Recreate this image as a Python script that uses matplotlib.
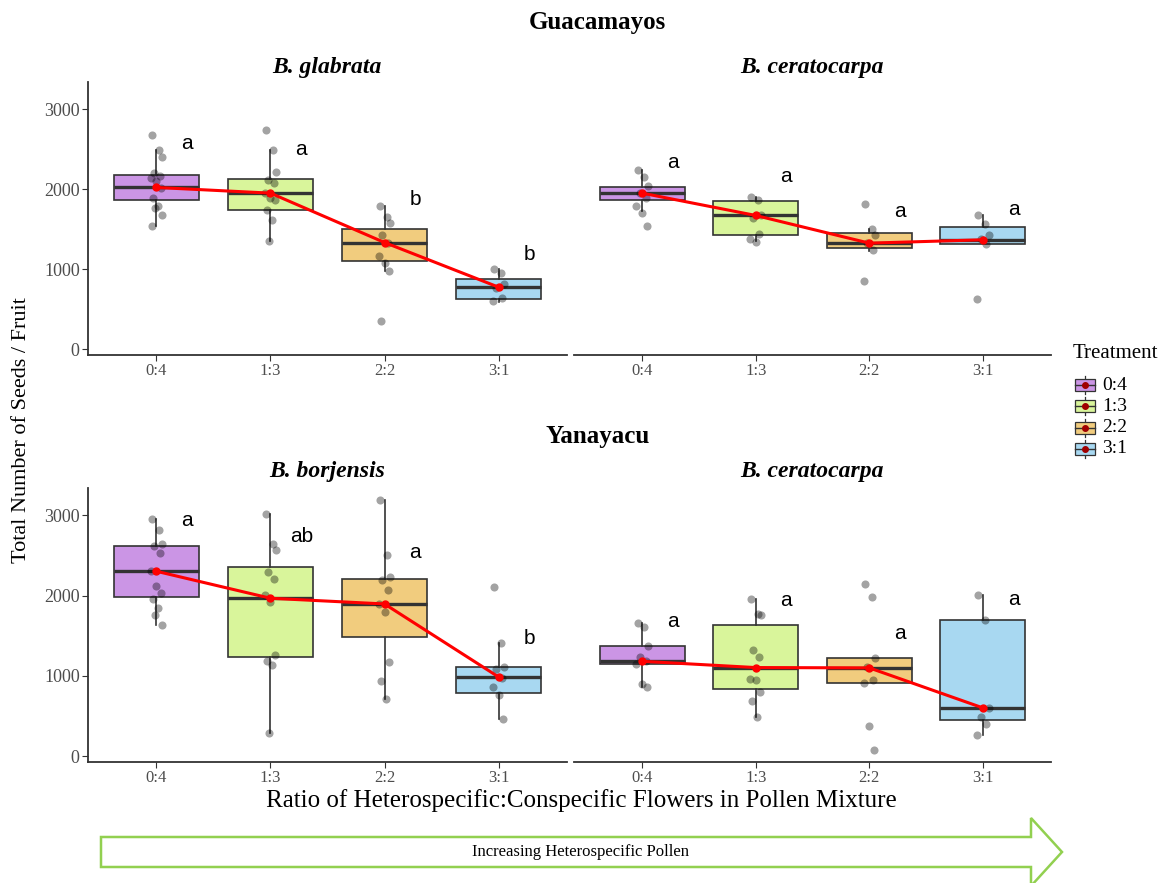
import matplotlib
matplotlib.use("Agg")
import matplotlib.pyplot as plt
from matplotlib.patches import Polygon, Rectangle

W, H = 1167, 883

ratios = ["0:4", "1:3", "2:2", "3:1"]
box_colors = ["#CB95E5", "#D9F59B", "#F1CC7E", "#A8D8F1"]

# box stats per ratio: (lower whisker, Q1, median, Q3, upper whisker)
glabrata_box = [(1543, 1860, 2022, 2177, 2485), (1359, 1743, 1951, 2127, 2494),
                (984, 1109, 1334, 1501, 1785), (596, 634, 776, 880, 1000)]
glabrata_pts = [[2677, 2485, 2402, 2200, 2160, 2140, 2100, 2014, 1890, 1785, 1765, 1680, 1543],
                [2744, 2494, 2210, 2118, 2077, 1950, 1889, 1860, 1735, 1618, 1359],
                [1785, 1651, 1576, 1426, 1326, 1168, 1076, 984, 350],
                [1000, 951, 817, 763, 638, 609]]
glabrata_letters = ["a", "a", "b", "b"]
glabrata_letter_y = [2577, 2494, 1868, 1180]

ceratG_box = [(1722, 1868, 1951, 2022, 2235), (1347, 1426, 1672, 1851, 1901),
              (1234, 1264, 1326, 1459, 1501), (1318, 1318, 1368, 1526, 1680)]
ceratG_pts = [[2235, 2152, 2043, 1951, 1889, 1785, 1701, 1543],
              [1901, 1860, 1680, 1639, 1443, 1376, 1339],
              [1818, 1501, 1430, 1326, 1243, 851],
              [1680, 1568, 1430, 1376, 1318, 630]]
ceratG_letters = ["a", "a", "a", "a"]
ceratG_letter_y = [2335, 2160, 1722, 1743]

borjensis_box = [(1631, 1987, 2303, 2618, 2958), (295, 1236, 1967, 2357, 3020),
                 (714, 1490, 1896, 2211, 3195), (469, 788, 987, 1112, 1415)]
borjensis_pts = [[2958, 2821, 2639, 2618, 2535, 2307, 2116, 2033, 1954, 1846, 1755, 1631],
                 [3020, 2647, 2564, 2294, 2211, 2004, 1921, 1257, 1182, 1141, 295],
                 [3195, 2502, 2232, 2191, 2066, 1896, 1797, 1174, 934, 714],
                 [2108, 1415, 1112, 1091, 979, 863, 759, 469]]
borjensis_letters = ["a", "ab", "a", "b"]
borjensis_letter_y = [2937, 2730, 2543, 1465]

ceratY_box = [(863, 1149, 1182, 1369, 1660), (490, 838, 1104, 1639, 1962),
              (917, 917, 1100, 1228, 1228), (261, 448, 602, 1693, 2004)]
ceratY_pts = [[1660, 1610, 1373, 1236, 1182, 1153, 896, 863],
              [1962, 1776, 1755, 1328, 1236, 967, 954, 801, 685, 490],
              [2141, 1983, 1228, 1112, 946, 917, 378, 83],
              [2004, 1693, 602, 490, 407, 261]]
ceratY_letters = ["a", "a", "a", "a"]
ceratY_letter_y = [1672, 1933, 1527, 1954]

# small fixed horizontal jitter for the points
jit = [-0.04, 0.02, 0.05, -0.02, 0.03, -0.05, 0.0, 0.04, -0.03, 0.01, -0.01, 0.05, -0.04]

serif = "Liberation Serif"
dark = "#333333"

fig = plt.figure(figsize=(W / 100, H / 100), dpi=100)
fig.patch.set_facecolor("white")


def px_axes(x0, x1, y0, y1):
    return fig.add_axes([x0 / W, 1 - y1 / H, (x1 - x0) / W, (y1 - y0) / H])


def draw_panel(ax, box, pts, letters, letter_y, left_axis):
    pos = [1, 2, 3, 4]
    stats = []
    for b in box:
        stats.append({"whislo": b[0], "q1": b[1], "med": b[2], "q3": b[3], "whishi": b[4], "fliers": []})
    bp = ax.bxp(stats, positions=pos, widths=0.75, patch_artist=True, showfliers=False, showcaps=False,
                boxprops=dict(edgecolor=dark, linewidth=1.2),
                whiskerprops=dict(color=dark, linewidth=1.2),
                medianprops=dict(color=dark, linewidth=2.4))
    for patch, c in zip(bp["boxes"], box_colors):
        patch.set_facecolor(c)
    for i, vals in enumerate(pts):
        xs = [pos[i] + jit[k % len(jit)] for k in range(len(vals))]
        ax.scatter(xs, vals, s=34, color="black", alpha=0.36, linewidths=0, zorder=4)
    meds = [b[2] for b in box]
    ax.plot(pos, meds, color="red", lw=2.2, marker="o", ms=5, zorder=5)
    for i, (t, yv) in enumerate(zip(letters, letter_y)):
        ax.text(pos[i] + 0.27, yv, t, fontsize=15, family="Liberation Sans", ha="center", va="center")

    ax.set_xlim(0.4, 4.6)
    ax.set_ylim(-72, 3340)
    ax.set_xticks(pos)
    ax.set_xticklabels(ratios, family=serif, fontsize=12, color="#4D4D4D")
    ax.set_facecolor("none")
    for s in ["top", "right"]:
        ax.spines[s].set_visible(False)
    ax.spines["bottom"].set_color(dark)
    ax.spines["bottom"].set_linewidth(1.3)
    ax.tick_params(axis="x", length=4, color=dark, pad=2)
    if left_axis:
        ax.spines["left"].set_color(dark)
        ax.spines["left"].set_linewidth(1.3)
        ax.set_yticks([0, 1000, 2000, 3000])
        ax.set_yticklabels(["0", "1000", "2000", "3000"], family=serif, fontsize=13, color="#4D4D4D")
        ax.tick_params(axis="y", length=4, color=dark, pad=2)
    else:
        ax.spines["left"].set_visible(False)
        ax.set_yticks([])


# overlay in pixel coordinates for titles, legend and arrow
ov = fig.add_axes([0, 0, 1, 1], zorder=-1)
ov.set_xlim(0, W)
ov.set_ylim(H, 0)
ov.axis("off")

ax1 = px_axes(88, 567, 82, 355)
ax2 = px_axes(574, 1051, 82, 355)
ax3 = px_axes(88, 567, 488, 762)
ax4 = px_axes(574, 1051, 488, 762)

draw_panel(ax1, glabrata_box, glabrata_pts, glabrata_letters, glabrata_letter_y, True)
draw_panel(ax2, ceratG_box, ceratG_pts, ceratG_letters, ceratG_letter_y, False)
draw_panel(ax3, borjensis_box, borjensis_pts, borjensis_letters, borjensis_letter_y, True)
draw_panel(ax4, ceratY_box, ceratY_pts, ceratY_letters, ceratY_letter_y, False)

# titles
ov.text(597, 22, "Guacamayos", family=serif, fontsize=18, weight="bold", ha="center", va="center")
ov.text(598, 437, "Yanayacu", family=serif, fontsize=18, weight="bold", ha="center", va="center")
ov.text(327, 67, "B. glabrata", family=serif, fontsize=17, weight="bold", style="italic", ha="center", va="center")
ov.text(812, 67, "B. ceratocarpa", family=serif, fontsize=17, weight="bold", style="italic", ha="center", va="center")
ov.text(327, 472, "B. borjensis", family=serif, fontsize=17, weight="bold", style="italic", ha="center", va="center")
ov.text(812, 472, "B. ceratocarpa", family=serif, fontsize=17, weight="bold", style="italic", ha="center", va="center")

ov.text(22, 430, "Total Number of Seeds / Fruit", family=serif, fontsize=16, rotation=90, ha="center", va="center")
ov.text(581, 801, "Ratio of Heterospecific:Conspecific Flowers in Pollen Mixture", family=serif, fontsize=18,
        ha="center", va="center")

# legend
ov.text(1073, 353, "Treatment", family=serif, fontsize=15, ha="left", va="center")
for i, (lab, c) in enumerate(zip(ratios, box_colors)):
    yc = 385 + 21.3 * i
    ov.plot([1085, 1085], [yc - 9, yc + 9], color=dark, lw=0.9, zorder=2)
    ov.add_patch(Rectangle((1075, yc - 6), 20, 12, facecolor=c, edgecolor=dark, lw=0.9, zorder=3))
    ov.plot([1075, 1095], [yc, yc], color=dark, lw=1.0, zorder=4)
    ov.plot([1085], [yc], marker="o", ms=4, color="#A00000", zorder=5)
    ov.text(1102, yc, lab, family=serif, fontsize=14, ha="left", va="center")

# arrow
arrow = Polygon([(101, 837), (1031, 837), (1031, 818), (1062, 852), (1031, 886), (1031, 867), (101, 867)],
                closed=True, facecolor="white", edgecolor="#92D050", lw=1.8)
ov.add_patch(arrow)
ov.text(580, 852, "Increasing Heterospecific Pollen", family=serif, fontsize=12, ha="center", va="center")

fig.savefig("out.png", dpi=100)
